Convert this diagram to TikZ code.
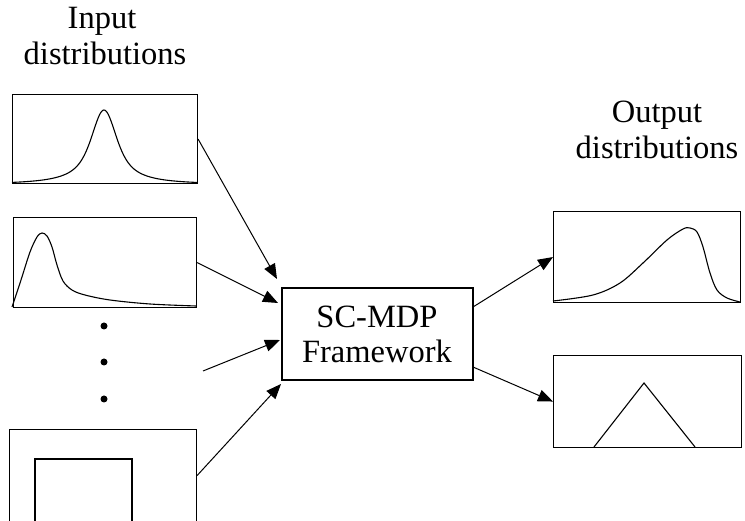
\documentclass[tikz,border=0pt]{standalone}
\usepackage{fontspec}
\setmainfont{Liberation Serif}
\usetikzlibrary{arrows.meta}
\tikzset{
  panel/.style={draw, line width=1.1pt, inner sep=0pt, anchor=north west},
  curve/.style={line width=1.1pt, line join=round},
  link/.style={line width=1pt, -{Triangle[length=15pt,width=12pt]}},
  caption/.style={font=\fontsize{32.5}{36}\selectfont, inner sep=0pt, anchor=base},
  dot/.style={circle, fill, inner sep=0pt, minimum size=7pt}
}
\begin{document}
\begin{tikzpicture}[x=1pt, y=-1pt]
\useasboundingbox (0,0) rectangle (745,521);

% headings
\node[caption] (inlabelA) at (102,29) {Input};
\node[caption] (inlabelB) at (105,65) {distributions};
\node[caption] (outlabelA) at (657,123) {Output};
\node[caption] (outlabelB) at (657,159) {distributions};

% input panels
\node[panel, minimum width=185pt, minimum height=89pt] (in1) at (12,94) {};
\node[panel, minimum width=183pt, minimum height=90pt] (in2) at (13,217) {};
\node[panel, minimum width=187pt, minimum height=92pt] (in4) at (9,429) {};

% bell-shaped density: Gaussian core with Cauchy tails
\draw[curve] plot[domain=12:197, samples=160]
  (\x, {183-73*((0.2*exp(-((\x-104)^2)/242)+0.8/(1+((\x-104)/17.5)^2))-0.02)/0.98});

% right-skewed density
\draw[curve] plot[smooth, tension=0.55] coordinates {
  (12,307) (21,280) (30,252) (37,237) (42,233) (47,236) (52,247)
  (57,265) (63,281) (72,290) (85,295) (110,300) (150,304) (196,306)};

% uniform density
\draw[line width=1.1pt] (35,521) -- (35,459) -- (132,459) -- (132,521);

% ellipsis between panels
\node[dot] (d1) at (104,326) {};
\node[dot] (d2) at (104,362) {};
\node[dot] (d3) at (104,399) {};

% framework block
\node[draw, line width=1.1pt, minimum width=191pt, minimum height=92pt,
      inner sep=0pt] (mdp) at (377.5,334) {};
\node[caption] (mdptextA) at (377,328) {SC-MDP};
\node[caption] (mdptextB) at (377,363) {Framework};

% output panels
\node[panel, minimum width=187pt, minimum height=91pt] (out1) at (553,211) {};
\node[panel, minimum width=188pt, minimum height=92pt] (out2) at (553,355) {};

% left-skewed density
\draw[curve] plot[smooth, tension=0.55] coordinates {
  (553,301) (593,295) (620,283) (643,263) (667,240) (683,229) (690,228)
  (697,232) (703,247) (710,273) (717,290) (727,298) (740,302)};

% triangular density
\draw[line width=1.1pt, line join=miter] (594,447) -- (644,383) -- (695,447);

% arrow end points
\coordinate (t1) at (277,279);
\coordinate (t2) at (278,303);
\coordinate (s3) at (203,371);
\coordinate (t3) at (280,340);
\coordinate (t4) at (281,384);
\coordinate (s5) at (473,307);
\coordinate (s6) at (473,367);

\draw[link] (in1.east) -- (t1);
\draw[link] (in2.east) -- (t2);
\draw[link] (s3) -- (t3);
\draw[link] (in4.east) -- (t4);
\draw[link] (s5) -- (out1.west);
\draw[link] (s6) -- (out2.west);
\end{tikzpicture}
\end{document}
